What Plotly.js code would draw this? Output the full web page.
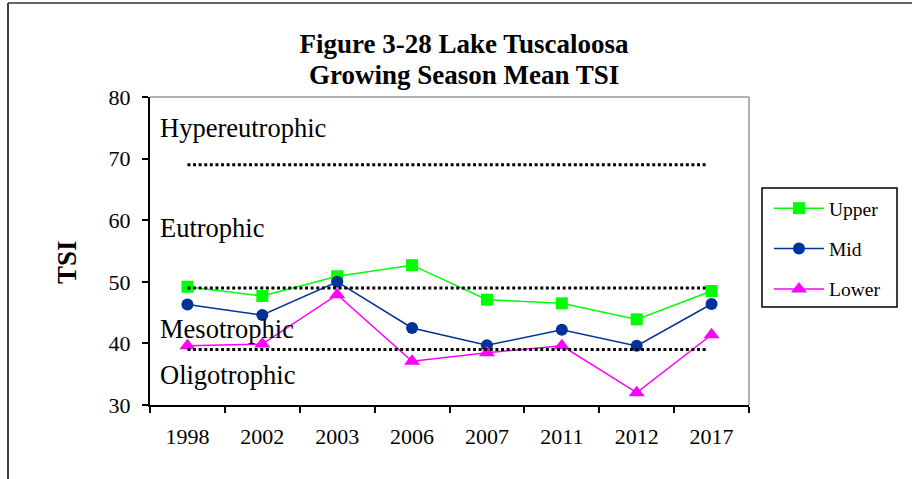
<!DOCTYPE html>
<html>
<head>
<meta charset="utf-8">
<script src="https://cdn.plot.ly/plotly-3.0.1.min.js"></script>
<style>
  html, body { margin: 0; padding: 0; background: #fff; }
  #chart { width: 912px; height: 479px; }
</style>
</head>
<body>
<div id="chart"></div>
<script>
const years = ["1998", "2002", "2003", "2006", "2007", "2011", "2012", "2017"];
const upper = [49.2, 47.7, 50.9, 52.7, 47.1, 46.5, 43.9, 48.5];
const mid   = [46.3, 44.6, 50.0, 42.5, 39.7, 42.2, 39.6, 46.4];
const lower = [39.6, 39.9, 47.9, 37.1, 38.5, 39.6, 32.0, 41.4];
const thresholds = [69, 49, 39];
const zoneLabels = ["Hypereutrophic", "Eutrophic", "Mesotrophic", "Oligotrophic"];
const zoneLabelY = [75.0, 58.7, 42.3, 34.9];
const titleLine1 = "Figure 3-28 Lake Tuscaloosa";
const titleLine2 = "Growing Season Mean TSI";

const serif = "'Liberation Serif', 'Times New Roman', serif";

const traces = [
  { x: years, y: upper, name: "Upper", type: "scatter", mode: "lines+markers",
    line: { color: "#00FF00", width: 1.5 }, marker: { symbol: "square", size: 12, color: "#00FF00" }, legendgroup: "a" },
  { x: years, y: mid, name: "Mid", type: "scatter", mode: "lines+markers",
    line: { color: "#003399", width: 1.5 }, marker: { symbol: "circle", size: 12, color: "#003399" }, legendgroup: "b" },
  { x: years, y: lower, name: "Lower", type: "scatter", mode: "lines+markers",
    line: { color: "#FF00FF", width: 1.5 }, marker: { symbol: "triangle-up", size: 14, color: "#FF00FF" }, legendgroup: "c" }
];

function px(xp) { return (xp - 150) / 599; }
function py(yp) { return (405 - yp) / 308; }

const shapes = thresholds.map(v => ({
  type: "line", xref: "x", yref: "y", x0: 0, x1: 6.93, y0: v, y1: v,
  line: { color: "#000", width: 3, dash: "3px,2.6px" }, layer: "above"
}));
shapes.push({ type: "line", xref: "paper", yref: "paper", x0: 0, x1: 1, y0: 1, y1: 1, line: { color: "#999", width: 1.5 } });
shapes.push({ type: "line", xref: "paper", yref: "paper", x0: 1, x1: 1, y0: 0, y1: 1, line: { color: "#999", width: 1.5 } });
shapes.push({ type: "line", xref: "paper", yref: "paper", x0: px(8), x1: px(8), y0: py(485), y1: py(3), line: { color: "#000", width: 1.5 } });
shapes.push({ type: "line", xref: "paper", yref: "paper", x0: px(8), x1: px(920), y0: py(3), y1: py(3), line: { color: "#333", width: 1.5 } });
// legend frame
shapes.push({ type: "rect", xref: "paper", yref: "paper", x0: px(762), x1: px(897), y0: py(188), y1: py(307), line: { color: "#000", width: 1.5 } });

const annotations = zoneLabels.map((t, i) => ({
  text: t, xref: "paper", yref: "y", x: 0.0134, y: zoneLabelY[i], xanchor: "left", yanchor: "middle",
  showarrow: false, font: { family: serif, size: 26.5, color: "#000" }
}));
annotations.push({
  text: "<b>TSI</b>", xref: "paper", yref: "paper", x: px(67), y: py(262), xanchor: "center", yanchor: "middle",
  textangle: -90, showarrow: false, font: { family: serif, size: 27, color: "#000" }
});
annotations.push({
  text: "<b>" + titleLine2 + "</b>", xref: "paper", yref: "paper", x: px(464), y: py(75),
  xanchor: "center", yanchor: "middle", showarrow: false, font: { family: serif, size: 27, color: "#000" }
});

const layout = {
  width: 912, height: 479,
  margin: { l: 150, r: 163, t: 97, b: 74 },
  paper_bgcolor: "#fff", plot_bgcolor: "#fff",
  font: { family: serif, color: "#000" },
  title: {
    text: "<b>" + titleLine1 + "</b>",
    font: { family: serif, size: 27, color: "#000" },
    x: 464 / 912, xanchor: "center", xref: "container",
    y: 1 - 44 / 479, yanchor: "middle", yref: "container"
  },
  xaxis: {
    type: "category", categoryarray: years, range: [-0.5, 7.5],
    showgrid: false, zeroline: false, showline: true, linecolor: "#000", linewidth: 2,
    ticks: "outside", tickson: "boundaries", ticklen: 6, tickwidth: 2, tickcolor: "#000",
    ticklabelstandoff: 11,
    tickfont: { family: serif, size: 22, color: "#000" }
  },
  yaxis: {
    range: [30, 80], dtick: 10, tick0: 30,
    showgrid: false, zeroline: false, showline: true, linecolor: "#000", linewidth: 2,
    ticks: "outside", ticklen: 6, tickwidth: 2, tickcolor: "#000",
    ticklabelstandoff: 7,
    tickfont: { family: serif, size: 22, color: "#000" }
  },
  showlegend: true,
  legend: {
    x: px(769), y: py(189), xanchor: "left", yanchor: "top",
    xref: "paper", yref: "paper",
    borderwidth: 0, bgcolor: "rgba(0,0,0,0)",
    font: { family: serif, size: 19.5, color: "#000" },
    traceorder: "grouped", tracegroupgap: 12,
    itemwidth: 50
  },
  shapes: shapes,
  annotations: annotations
};

Plotly.newPlot("chart", traces, layout, { displayModeBar: false, staticPlot: true });
</script>
</body>
</html>
